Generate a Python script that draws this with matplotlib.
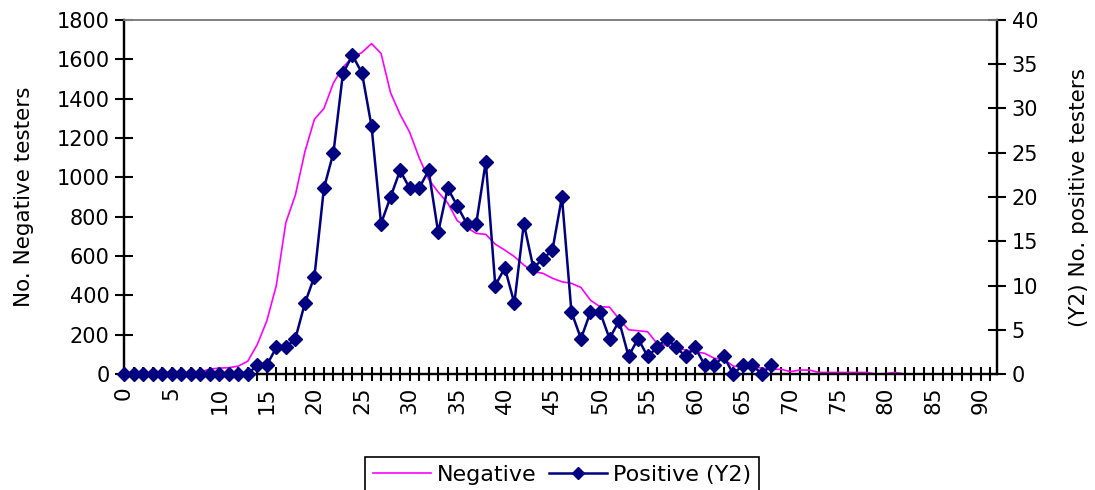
import matplotlib
matplotlib.use("Agg")
import matplotlib.pyplot as plt
from matplotlib.lines import Line2D

# Age (x), number of negative testers (left axis), number of positive testers (right axis)
ages_neg = list(range(0, 92))
negative = [0, 0, 0, 0, 0, 0, 0, 2, 10, 25,
            30, 32, 40, 65, 150, 270, 450, 770, 910, 1130,
            1295, 1350, 1480, 1560, 1610, 1635, 1680, 1630, 1430, 1320,
            1230, 1100, 990, 925, 870, 780, 745, 715, 710, 660,
            630, 597, 554, 520, 512, 487, 469, 461, 440, 375,
            342, 340, 280, 225, 220, 215, 155, 145, 131, 122,
            113, 105, 80, 75, 40, 37, 37, 30, 24, 24,
            12, 20, 20, 8, 8, 8, 8, 8, 8, 0,
            2, 8, 0, 0, 0, 0, 0, 0, 0, 0,
            0, 0]

ages_pos = list(range(0, 69))
positive = [0, 0, 0, 0, 0, 0, 0, 0, 0, 0,
            0, 0, 0, 0, 1, 1, 3, 3, 4, 8,
            11, 21, 25, 34, 36, 34, 28, 17, 20, 23,
            21, 21, 23, 16, 21, 19, 17, 17, 24, 10,
            12, 8, 17, 12, 13, 14, 20, 7, 4, 7,
            7, 4, 6, 2, 4, 2, 3, 4, 3, 2,
            3, 1, 1, 2, 0, 1, 1, 0, 1]

x_ticks = list(range(0, 92))
x_labels = [str(v) if v % 5 == 0 else "" for v in x_ticks]

plt.rcParams['font.family'] = ['DejaVu Sans']
fig = plt.figure(figsize=(10.95, 4.9), dpi=100)
ax = fig.add_axes([124 / 1095, 1 - 374 / 490, (997 - 124) / 1095, (374 - 20) / 490])
ax2 = ax.twinx()

ax.plot(ages_neg, negative, color='#FF00FF', lw=1.2, label='Negative')
ax2.plot(ages_pos, positive, color='#000080', lw=1.8, marker='D', ms=6.8,
         markeredgecolor='#000080', label='Positive (Y2)', clip_on=False, zorder=5)

ax.set_xlim(0, 91.7)
ax.set_ylim(0, 1800)
ax2.set_ylim(0, 40)
ax.set_yticks(range(0, 1801, 200))
ax2.set_yticks(range(0, 41, 5))
ax.set_xticks(x_ticks)
ax.set_xticklabels(x_labels, rotation=90, fontsize=15.5)

for a in (ax, ax2):
    a.tick_params(axis='y', direction='inout', length=13, width=1.5, labelsize=15, pad=4)
    for s in a.spines.values():
        s.set_linewidth(1.6)
    a.spines['top'].set_color('#808080')
    a.spines['top'].set_linewidth(1.2)
ax.tick_params(axis='x', direction='inout', length=10, width=1.5, pad=4)

ax.set_ylabel('No. Negative testers', fontsize=15.5, labelpad=16)
ax2.set_ylabel('(Y2) No. positive testers', fontsize=15.5, labelpad=22)

handles = [Line2D([], [], color='#FF00FF', lw=1.2),
           Line2D([], [], color='#000080', lw=1.8, marker='D', ms=6)]
leg = fig.legend(handles, ['Negative', 'Positive (Y2)'], loc='upper center',
                 bbox_to_anchor=(562 / 1095, 1 - 446 / 490), ncol=2, fontsize=16,
                 frameon=True, fancybox=False, edgecolor='black', framealpha=1,
                 handlelength=2.6, handletextpad=0.25, columnspacing=0.6,
                 borderpad=0.35)
leg.get_frame().set_linewidth(1.2)

fig.savefig('out.png', dpi=100)
